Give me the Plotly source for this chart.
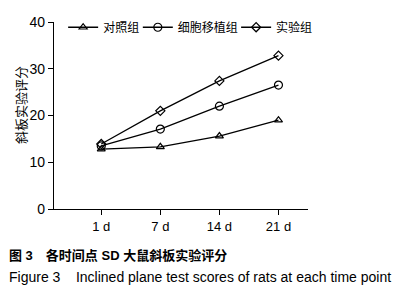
import plotly.graph_objects as go

categories = ["1 d", "7 d", "14 d", "21 d"]
control = [12.8, 13.3, 15.6, 19.0]
cell = [13.5, 17.1, 22.0, 26.5]
experiment = [13.9, 21.0, 27.4, 32.8]
series_names = ["对照组", "细胞移植组", "实验组"]
y_ticks = [0, 10, 20, 30, 40]

FONT = "Arial, Liberation Sans, Noto Sans CJK SC"

fig = go.Figure()
symbols = ["triangle-up-open", "circle-open", "diamond-open"]
sizes = [7, 8, 7]
legends = ["legend", "legend2", "legend3"]
for name, vals, sym, sz, lg in zip(series_names, [control, cell, experiment], symbols, sizes, legends):
    fig.add_trace(go.Scatter(
        x=list(range(len(categories))), y=vals, name=name, mode="lines+markers",
        line=dict(color="black", width=1.3),
        marker=dict(symbol=sym, size=sz, color="black", line=dict(width=1.2, color="black")),
        legend=lg,
    ))

leg_common = dict(orientation="h", yanchor="middle", y=0.972, xanchor="left",
                  font=dict(size=12), bgcolor="rgba(0,0,0,0)")
fig.update_layout(
    width=413, height=301,
    margin=dict(l=54, r=105, t=22, b=92, autoexpand=False),
    paper_bgcolor="white", plot_bgcolor="white",
    font=dict(family=FONT, size=13, color="black"),
    showlegend=True,
    legend=dict(x=0.036, **leg_common),
    legend2=dict(x=0.33, **leg_common),
    legend3=dict(x=0.717, **leg_common),
    xaxis=dict(range=[-0.8, 3.5], tickmode="array", tickvals=list(range(len(categories))),
               ticktext=categories, showgrid=False, zeroline=False,
               showline=True, linecolor="black", linewidth=1.3,
               ticks="outside", ticklen=5, tickcolor="black", tickwidth=1.3,
               tickfont=dict(size=13)),
    yaxis=dict(range=[0, 40], tickvals=y_ticks, showgrid=False, zeroline=False,
               showline=True, linecolor="black", linewidth=1.3,
               ticks="outside", ticklen=5, tickcolor="black", tickwidth=1.3,
               tickfont=dict(size=14)),
    annotations=[
        dict(text="斜板实验评分", textangle=-90, x=-0.134, y=0.556, xref="paper", yref="paper",
             xanchor="center", yanchor="middle",
             showarrow=False, font=dict(size=13, family="Noto Sans CJK SC")),
        dict(text="<b>图 3</b>　<b>各时间点 SD 大鼠斜板实验评分</b>", x=-0.185, y=-0.251,
             xref="paper", yref="paper", xanchor="left", yanchor="middle", showarrow=False,
             font=dict(size=13)),
        dict(text="Figure 3    Inclined plane test scores of rats at each time point", x=-0.185, y=-0.364,
             xref="paper", yref="paper", xanchor="left", yanchor="middle", showarrow=False,
             font=dict(size=14)),
    ],
)

fig.write_html("out.html", config={"displayModeBar": False},
               post_script="document.body.style.margin='0px';document.body.style.padding='0px';")
